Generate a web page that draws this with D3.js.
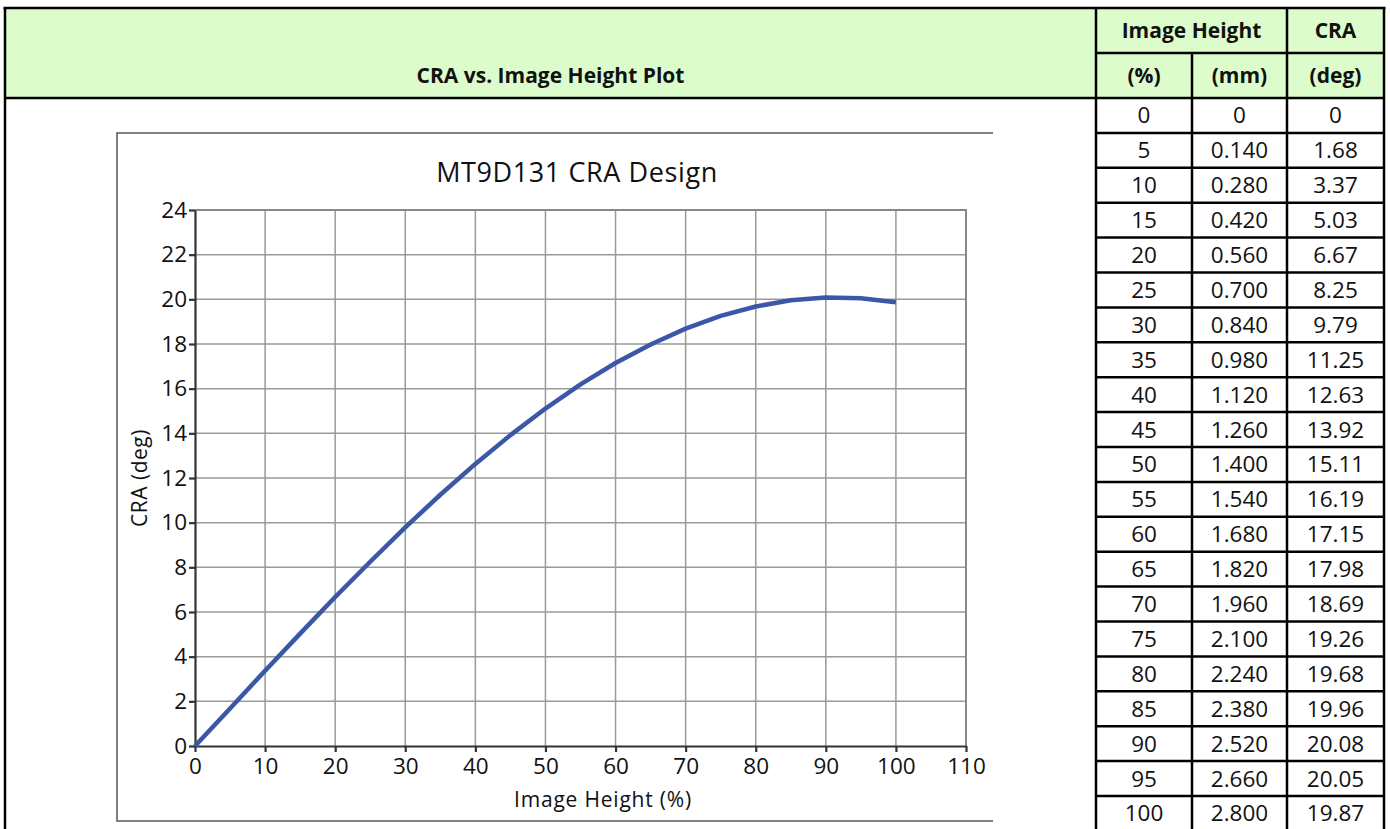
<!DOCTYPE html>
<html>
<head>
<meta charset="utf-8">
<script src="https://cdn.jsdelivr.net/npm/d3@7"></script>
<style>
  body { margin: 0; background: #fff; }
  svg { display: block; font-family: 'Open Sans', 'Noto Sans', sans-serif; }
  .grid line { stroke: #9a9a9a; stroke-width: 1.5; }
  .axis path, .axis line { stroke: #333; stroke-width: 2.2; }
  .axis text { font-size: 22.5px; fill: #111; font-family: 'Open Sans', 'Noto Sans', sans-serif; }
  .cell { font-size: 22.5px; fill: #111; }
  .head { font-size: 21px; font-weight: bold; fill: #111; }
</style>
</head>
<body>
<svg id="chart" width="1390" height="829"></svg>
<script>
const pctValues = [0, 5, 10, 15, 20, 25, 30, 35, 40, 45, 50, 55, 60, 65, 70, 75, 80, 85, 90, 95, 100]
const mmValues = ['0', '0.140', '0.280', '0.420', '0.560', '0.700', '0.840', '0.980', '1.120', '1.260',
  '1.400', '1.540', '1.680', '1.820', '1.960', '2.100', '2.240', '2.380', '2.520', '2.660', '2.800']
const craValues = [0, 1.68, 3.37, 5.03, 6.67, 8.25, 9.79, 11.25, 12.63, 13.92,
  15.11, 16.19, 17.15, 17.98, 18.69, 19.26, 19.68, 19.96, 20.08, 20.05, 19.87]
const xTicks = [0, 10, 20, 30, 40, 50, 60, 70, 80, 90, 100, 110]
const yTicks = [0, 2, 4, 6, 8, 10, 12, 14, 16, 18, 20, 22, 24]

const svg = d3.select('#chart')

// ---- page frame and header ----
const pageLeft = 5
const pageRight = 1384
const pageTop = 8
const headMid = 53
const headBottom = 98
const colX = [1096, 1192, 1287, 1384]

svg.append('rect')
    .attr('x', pageLeft).attr('y', pageTop)
    .attr('width', pageRight - pageLeft).attr('height', headBottom - pageTop)
    .attr('fill', '#ddfccc')

svg.append('text')
    .attr('class', 'head')
    .attr('x', (pageLeft + colX[0]) / 2)
    .attr('y', 83)
    .attr('text-anchor', 'middle')
    .text('CRA vs. Image Height Plot')

// ---- table ----
const rowY = d3.scaleBand()
    .domain(d3.range(pctValues.length))
    .range([headBottom, headBottom + 34.9 * pctValues.length])

const rows = pctValues.map((p, i) => [String(p), mmValues[i], craValues[i] === 0 ? '0' : craValues[i].toFixed(2)])

const headers = [
  { text: 'Image Height', x0: colX[0], x1: colX[2], y: 38 },
  { text: 'CRA', x0: colX[2], x1: colX[3], y: 38 },
  { text: '(%)', x0: colX[0], x1: colX[1], y: 83 },
  { text: '(mm)', x0: colX[1], x1: colX[2], y: 83 },
  { text: '(deg)', x0: colX[2], x1: colX[3], y: 83 }
]

svg.selectAll('.hcell')
    .data(headers)
  .enter().append('text')
    .attr('class', 'head hcell')
    .attr('x', d => (d.x0 + d.x1) / 2)
    .attr('y', d => d.y)
    .attr('text-anchor', 'middle')
    .text(d => d.text)

const tg = svg.append('g')
rows.forEach((r, i) => {
  r.forEach((v, j) => {
    tg.append('text')
        .attr('class', 'cell')
        .attr('x', (colX[j] + colX[j + 1]) / 2)
        .attr('y', rowY(i) + rowY.bandwidth() / 2 + 8)
        .attr('text-anchor', 'middle')
        .text(v)
  })
})

// table lines
const lines = svg.append('g').attr('stroke', '#000').attr('stroke-width', 2.5)
rows.forEach((r, i) => {
  lines.append('line')
      .attr('x1', colX[0]).attr('x2', pageRight)
      .attr('y1', rowY(i) + rowY.bandwidth()).attr('y2', rowY(i) + rowY.bandwidth())
})
lines.append('line').attr('x1', colX[0]).attr('x2', pageRight).attr('y1', headMid).attr('y2', headMid)
lines.append('line').attr('x1', pageLeft).attr('x2', pageRight).attr('y1', headBottom).attr('y2', headBottom)
lines.append('line').attr('x1', pageLeft - 1.5).attr('x2', pageRight + 1.5).attr('y1', pageTop).attr('y2', pageTop)
lines.append('line').attr('x1', pageLeft).attr('x2', pageLeft).attr('y1', pageTop).attr('y2', 829)
colX.forEach((cx, i) => {
  lines.append('line')
      .attr('x1', cx).attr('x2', cx)
      .attr('y1', i === 1 ? headMid : pageTop).attr('y2', 829)
})

// ---- chart ----
svg.append('path')
    .attr('d', 'M993,133H117V821H993')
    .attr('stroke', '#555')
    .attr('stroke-width', 1.5)
    .attr('fill', 'none')

const x = d3.scaleLinear().domain([0, 110]).range([195, 966])
const y = d3.scaleLinear().domain([0, 24]).range([746, 210])

svg.append('g')
    .attr('class', 'grid')
  .selectAll('line')
    .data(xTicks.slice(1))
  .enter().append('line')
    .attr('x1', d => x(d)).attr('x2', d => x(d))
    .attr('y1', y(0)).attr('y2', y(24))

svg.append('g')
    .attr('class', 'grid')
  .selectAll('line')
    .data(yTicks.slice(1))
  .enter().append('line')
    .attr('x1', x(0)).attr('x2', x(110))
    .attr('y1', d => y(d)).attr('y2', d => y(d))

// plot border top/right
svg.append('path')
    .attr('d', `M${x(0)},${y(24)}H${x(110)}V${y(0)}`)
    .attr('fill', 'none')
    .attr('stroke', '#888')
    .attr('stroke-width', 2)

const xAxis = d3.axisBottom(x).tickValues(xTicks).tickSizeInner(6).tickSizeOuter(0).tickPadding(6)
const yAxis = d3.axisLeft(y).tickValues(yTicks).tickSizeInner(6).tickSizeOuter(0).tickPadding(2)

svg.append('g')
    .attr('class', 'x axis')
    .attr('transform', `translate(0,${y(0)})`)
    .call(xAxis)

svg.append('g')
    .attr('class', 'y axis')
    .attr('transform', `translate(${x(0)},0)`)
    .call(yAxis)

const line = d3.line()
    .x(d => x(d[0]))
    .y(d => y(d[1]))

svg.append('path')
    .datum(pctValues.map((p, i) => [p, craValues[i]]))
    .attr('d', line)
    .attr('fill', 'none')
    .attr('stroke', '#3a57a8')
    .attr('stroke-width', 4.5)
    .attr('stroke-linejoin', 'round')

svg.append('text')
    .attr('x', 577)
    .attr('y', 182)
    .attr('text-anchor', 'middle')
    .attr('font-size', 27)
    .attr('letter-spacing', 0.6)
    .attr('fill', '#111')
    .text('MT9D131  CRA  Design')

svg.append('text')
    .attr('x', 603)
    .attr('y', 807)
    .attr('text-anchor', 'middle')
    .attr('font-size', 21)
    .attr('letter-spacing', 0.8)
    .attr('fill', '#111')
    .text('Image Height (%)')

svg.append('text')
    .attr('transform', `translate(147,${(y(0) + y(24)) / 2}) rotate(-90)`)
    .attr('text-anchor', 'middle')
    .attr('font-size', 21)
    .attr('letter-spacing', 0.5)
    .attr('fill', '#111')
    .text('CRA (deg)')
</script>
</body>
</html>
